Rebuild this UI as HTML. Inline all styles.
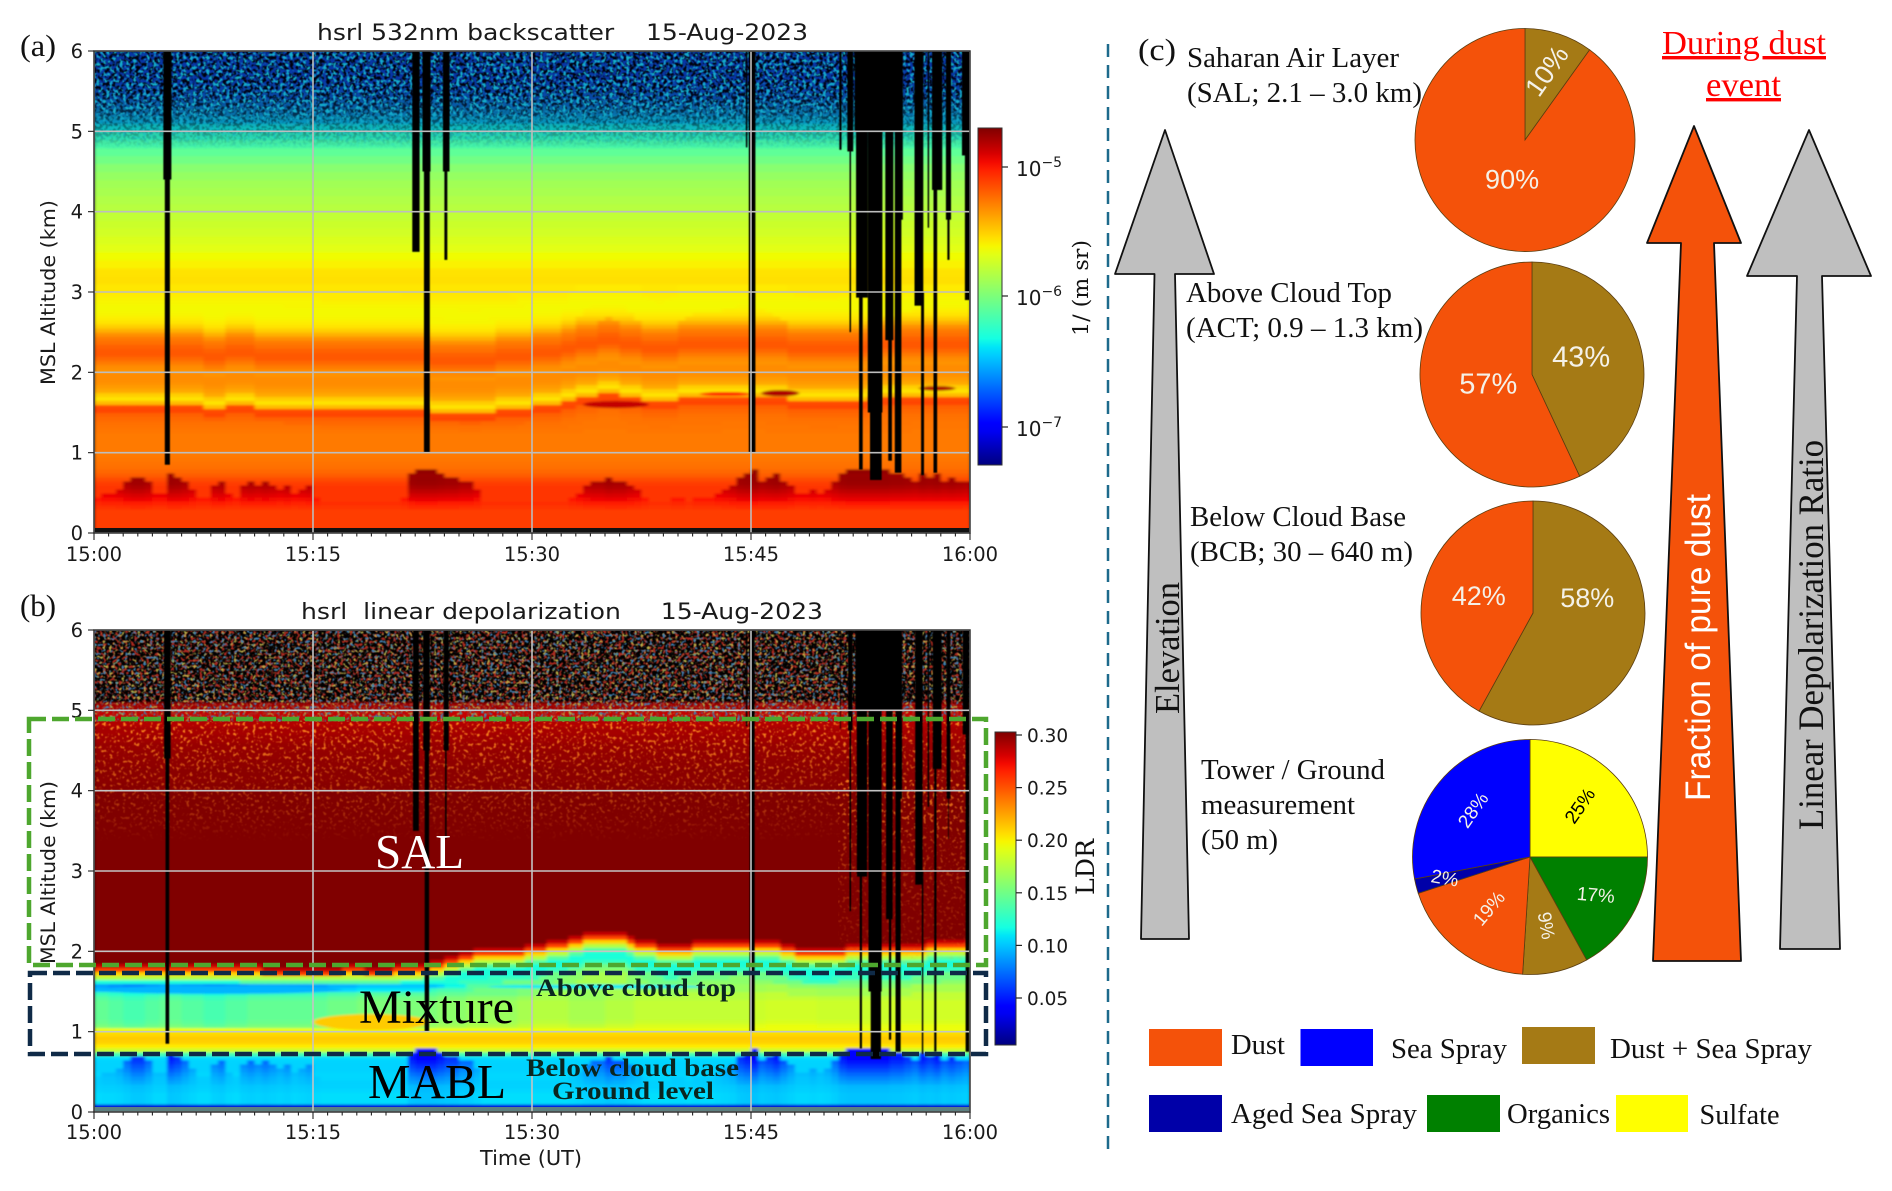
<!DOCTYPE html>
<html lang="en">
<head>
<meta charset="utf-8">
<title>HSRL backscatter, depolarization and aerosol composition during dust event</title>
<style>
html,body{margin:0;padding:0;background:#fff;}
svg{display:block;}
text{white-space:pre;}
.mpl{font-family:"DejaVu Sans","Liberation Sans",sans-serif;fill:#1a1a1a;}
.ser{font-family:"Liberation Serif",serif;fill:#111;}
.san{font-family:"Liberation Sans",sans-serif;}
</style>
</head>
<body>
<svg id="figure" xmlns="http://www.w3.org/2000/svg" width="1892" height="1191" viewBox="0 0 1892 1191">
<defs>
  <clipPath id="clip-a"><rect x="94" y="51" width="876" height="482"/></clipPath>
  <clipPath id="clip-b"><rect x="94" y="630" width="876" height="482"/></clipPath>
  <filter id="soft" x="-2%" y="-2%" width="104%" height="104%"><feGaussianBlur stdDeviation="1.6 1"/></filter>
  <filter id="soft-stripe" x="-5%" y="-5%" width="110%" height="110%"><feGaussianBlur stdDeviation="0.6"/></filter>
  <filter id="speck-cyan" x="0" y="0" width="1" height="1" color-interpolation-filters="sRGB"><feTurbulence type="fractalNoise" baseFrequency="0.3" numOctaves="2" seed="3"/><feColorMatrix values="0 0 0 0 0.08  0 0 0 0 0.68  0 0 0 0 0.8  9 0 0 0 -4.8"/><feGaussianBlur stdDeviation="0.4"/></filter>
  <filter id="speck-black" x="0" y="0" width="1" height="1" color-interpolation-filters="sRGB"><feTurbulence type="fractalNoise" baseFrequency="0.3" numOctaves="2" seed="11"/><feColorMatrix values="0 0 0 0 0  0 0 0 0 0  0 0 0 0 0.05  0 9 0 0 -4.2"/><feGaussianBlur stdDeviation="0.4"/></filter>
  <filter id="speck-red" x="0" y="0" width="1" height="1" color-interpolation-filters="sRGB"><feTurbulence type="fractalNoise" baseFrequency="0.32" numOctaves="2" seed="5"/><feColorMatrix values="0 0 0 0 0.68  0 0 0 0 0.16  0 0 0 0 0.12  9 0 0 0 -4.7"/><feGaussianBlur stdDeviation="0.4"/></filter>
  <filter id="speck-yellow" x="0" y="0" width="1" height="1" color-interpolation-filters="sRGB"><feTurbulence type="fractalNoise" baseFrequency="0.32" numOctaves="2" seed="21"/><feColorMatrix values="0 0 0 0 0.72  0 0 0 0 0.68  0 0 0 0 0.28  0 9 0 0 -5.3"/><feGaussianBlur stdDeviation="0.4"/></filter>
  <filter id="speck-aqua" x="0" y="0" width="1" height="1" color-interpolation-filters="sRGB"><feTurbulence type="fractalNoise" baseFrequency="0.32" numOctaves="2" seed="33"/><feColorMatrix values="0 0 0 0 0.25  0 0 0 0 0.5  0 0 0 0 0.7  0 0 9 0 -5.3"/><feGaussianBlur stdDeviation="0.4"/></filter>
  <filter id="speck-orange" x="0" y="0" width="1" height="1" color-interpolation-filters="sRGB"><feTurbulence type="fractalNoise" baseFrequency="0.3" numOctaves="2" seed="8"/><feColorMatrix values="0 0 0 0 1  0 0 0 0 0.55  0 0 0 0 0.12  9 0 0 0 -5.3"/><feGaussianBlur stdDeviation="0.4"/></filter>
  <linearGradient id="fade-a-grad" gradientUnits="userSpaceOnUse" x1="0" y1="112" x2="0" y2="150"><stop offset="0" stop-color="#fff"/><stop offset="1" stop-color="#000"/></linearGradient>
  <mask id="fade-a" maskUnits="userSpaceOnUse" x="94" y="51" width="876" height="482"><rect x="94" y="51" width="876" height="482" fill="url(#fade-a-grad)"/></mask>
  <linearGradient id="fade-a-black-grad" gradientUnits="userSpaceOnUse" x1="0" y1="90" x2="0" y2="148"><stop offset="0" stop-color="#fff"/><stop offset="1" stop-color="#000"/></linearGradient>
  <mask id="fade-a-black" maskUnits="userSpaceOnUse" x="94" y="51" width="876" height="482"><rect x="94" y="51" width="876" height="482" fill="url(#fade-a-black-grad)"/></mask>
  <linearGradient id="fade-b-grad" gradientUnits="userSpaceOnUse" x1="0" y1="722" x2="0" y2="842"><stop offset="0" stop-color="#fff"/><stop offset="0.4" stop-color="#999"/><stop offset="0.75" stop-color="#555"/><stop offset="1" stop-color="#000"/></linearGradient>
  <mask id="fade-b" maskUnits="userSpaceOnUse" x="94" y="630" width="876" height="482"><rect x="94" y="630" width="876" height="482" fill="url(#fade-b-grad)"/></mask>
  <linearGradient id="fade-b-right-grad" gradientUnits="userSpaceOnUse" x1="0" y1="760" x2="0" y2="965"><stop offset="0" stop-color="#fff"/><stop offset="1" stop-color="#222"/></linearGradient>
  <mask id="fade-b-right" maskUnits="userSpaceOnUse" x="94" y="630" width="876" height="482"><rect x="94" y="630" width="876" height="482" fill="url(#fade-b-right-grad)"/></mask>
  <linearGradient id="colorbar-jet" gradientUnits="objectBoundingBox" x1="0" y1="1" x2="0" y2="0"></linearGradient>
</defs>

<rect x="0" y="0" width="1892" height="1191" fill="#fff"/>

<!-- PANEL A -->
<g>
  <text class="ser" x="20" y="56" font-size="31" textLength="36" lengthAdjust="spacingAndGlyphs">(a)</text>
  <text class="mpl" x="317" y="40" font-size="22" textLength="491" lengthAdjust="spacingAndGlyphs">hsrl 532nm backscatter    15-Aug-2023</text>
  <rect x="94" y="51" width="876" height="482" fill="#000"/>
  <g clip-path="url(#clip-a)">
    <g id="heat-a" filter="url(#soft)"></g>
    <g>
      <rect x="94" y="51" width="876" height="125" fill="#0f3a5c" fill-opacity="0.55" mask="url(#fade-a)"/>
      <rect x="94" y="51" width="876" height="125" fill="#000" filter="url(#speck-black)" mask="url(#fade-a-black)"/>
      <rect x="94" y="51" width="876" height="125" fill="#000" filter="url(#speck-cyan)" mask="url(#fade-a)"/>
    </g>
    <g id="stripes-a" filter="url(#soft-stripe)"></g>
    <rect x="94" y="528" width="876" height="5" fill="#111"/>
    <g id="grid-a"></g>
  </g>
  <rect x="94" y="51" width="876" height="482" fill="none" stroke="#333" stroke-width="1.5"/>
  <g id="axes-a"></g>
  <text class="mpl" transform="translate(55 385) rotate(-90)" font-size="19.5" textLength="185" lengthAdjust="spacingAndGlyphs">MSL Altitude (km)</text>
  <rect x="978" y="128" width="24" height="337" fill="url(#colorbar-jet)" stroke="#333" stroke-width="1"/>
  <g stroke="#222" stroke-width="1.2">
    <line x1="1002" x2="1008" y1="167" y2="167"/>
    <line x1="1002" x2="1008" y1="296" y2="296"/>
    <line x1="1002" x2="1008" y1="427" y2="427"/>
  </g>
  <text class="mpl" x="1016" y="176" font-size="20">10<tspan font-size="14" dy="-9">−5</tspan></text>
  <text class="mpl" x="1016" y="305" font-size="20">10<tspan font-size="14" dy="-9">−6</tspan></text>
  <text class="mpl" x="1016" y="436" font-size="20">10<tspan font-size="14" dy="-9">−7</tspan></text>
  <text transform="translate(1088 336) rotate(-90)" font-family="'DejaVu Serif','Liberation Serif',serif" font-size="21" fill="#111" textLength="96" lengthAdjust="spacingAndGlyphs">1/ (m sr)</text>
</g>

<!-- PANEL B -->
<g>
  <text class="ser" x="20" y="616" font-size="31" textLength="36" lengthAdjust="spacingAndGlyphs">(b)</text>
  <text class="mpl" x="301" y="619" font-size="22" textLength="522" lengthAdjust="spacingAndGlyphs">hsrl  linear depolarization     15-Aug-2023</text>
  <rect x="94" y="630" width="876" height="482" fill="#000"/>
  <g clip-path="url(#clip-b)">
    <g id="heat-b" filter="url(#soft)"></g>
    <g>
      <rect x="94" y="630" width="876" height="92" fill="#000" filter="url(#speck-red)"/>
      <rect x="94" y="630" width="876" height="92" fill="#000" filter="url(#speck-yellow)"/>
      <rect x="94" y="630" width="876" height="92" fill="#000" filter="url(#speck-aqua)"/>
      <rect x="94" y="722" width="876" height="122" fill="#000" filter="url(#speck-orange)" mask="url(#fade-b)"/>
      <rect x="838" y="780" width="132" height="185" fill="#000" opacity="0.7" filter="url(#speck-orange)" mask="url(#fade-b-right)"/>
    </g>
    <g id="stripes-b" filter="url(#soft-stripe)"></g>
    <rect x="94" y="1107" width="876" height="5" fill="#5d8080"/>
    <g id="grid-b"></g>
  </g>
  <rect x="94" y="630" width="876" height="482" fill="none" stroke="#333" stroke-width="1.5"/>
  <g id="axes-b"></g>
  <text class="mpl" transform="translate(55 964) rotate(-90)" font-size="19.5" textLength="183" lengthAdjust="spacingAndGlyphs">MSL Altitude (km)</text>
  <text class="mpl" x="480" y="1165" font-size="20" textLength="102" lengthAdjust="spacingAndGlyphs">Time (UT)</text>
  <rect x="995" y="732" width="21" height="313" fill="url(#colorbar-jet)" stroke="#333" stroke-width="1"/>
  <g id="ldr-cbar-ticks"></g>
  <text transform="translate(1094 895) rotate(-90)" font-family="'DejaVu Serif','Liberation Serif',serif" font-size="25" fill="#111" textLength="56" lengthAdjust="spacingAndGlyphs">LDR</text>

  <rect x="29" y="719" width="957" height="246" fill="none" stroke="#4ea72e" stroke-width="4.5" stroke-dasharray="17 6"/>
  <rect x="30" y="973" width="956" height="81" fill="none" stroke="#0f2a47" stroke-width="4.5" stroke-dasharray="17 6"/>
  <text class="ser" style="fill:#fff" x="375" y="868" font-size="49" textLength="89" lengthAdjust="spacingAndGlyphs">SAL</text>
  <text class="ser" style="fill:#000" x="359" y="1023" font-size="48" textLength="155" lengthAdjust="spacingAndGlyphs">Mixture</text>
  <text class="ser" style="fill:#000" x="368" y="1098" font-size="49" textLength="138" lengthAdjust="spacingAndGlyphs">MABL</text>
  <text class="ser" style="fill:#0a2620" font-weight="bold" x="536" y="996" font-size="25" textLength="200" lengthAdjust="spacingAndGlyphs">Above cloud top</text>
  <text class="ser" style="fill:#0a2620" font-weight="bold" x="526" y="1076" font-size="25" textLength="213" lengthAdjust="spacingAndGlyphs">Below cloud base</text>
  <text class="ser" style="fill:#0a2620" font-weight="bold" x="552" y="1099" font-size="25" textLength="162" lengthAdjust="spacingAndGlyphs">Ground level</text>
</g>

<line x1="1108" x2="1108" y1="44" y2="1152" stroke="#1d6a8c" stroke-width="2.5" stroke-dasharray="13 8"/>

<!-- PANEL C -->
<g>
  <text class="ser" x="1138" y="60" font-size="31" textLength="38" lengthAdjust="spacingAndGlyphs">(c)</text>

  <polygon points="1165,130 1214,274 1175,274 1189,939 1141,939 1154.5,274 1115,274" fill="#bfbfbf" stroke="#111" stroke-width="1.8" stroke-linejoin="round"/>
  <polygon points="1694,126 1741,243 1714,243 1741,961 1653,961 1681,243 1647,243" fill="#f4520a" stroke="#111" stroke-width="1.8" stroke-linejoin="round"/>
  <polygon points="1809,130 1871,276 1822,276 1840,949 1780,949 1797,276 1747,276" fill="#bfbfbf" stroke="#111" stroke-width="1.8" stroke-linejoin="round"/>
  <text class="ser" transform="translate(1179 714) rotate(-90)" font-size="35" textLength="132" lengthAdjust="spacingAndGlyphs">Elevation</text>
  <text class="san" fill="#fff" transform="translate(1710 801) rotate(-90)" font-size="35" textLength="307" lengthAdjust="spacingAndGlyphs">Fraction of pure dust</text>
  <text class="ser" transform="translate(1823 830) rotate(-90)" font-size="36" textLength="390" lengthAdjust="spacingAndGlyphs">Linear Depolarization Ratio</text>

  <text class="ser" style="fill:#f00" text-decoration="underline" x="1662" y="54" font-size="34" textLength="164" lengthAdjust="spacingAndGlyphs">During dust</text>
  <text class="ser" style="fill:#f00" text-decoration="underline" x="1706" y="96" font-size="34" textLength="75" lengthAdjust="spacingAndGlyphs">event</text>

  <text class="ser" x="1187" y="67" font-size="28" textLength="212" lengthAdjust="spacingAndGlyphs">Saharan Air Layer</text>
  <text class="ser" x="1187" y="102" font-size="28" textLength="235" lengthAdjust="spacingAndGlyphs">(SAL; 2.1 – 3.0 km)</text>
  <text class="ser" x="1186" y="302" font-size="28" textLength="206" lengthAdjust="spacingAndGlyphs">Above Cloud Top</text>
  <text class="ser" x="1186" y="337" font-size="28" textLength="237" lengthAdjust="spacingAndGlyphs">(ACT; 0.9 – 1.3 km)</text>
  <text class="ser" x="1190" y="526" font-size="28" textLength="216" lengthAdjust="spacingAndGlyphs">Below Cloud Base</text>
  <text class="ser" x="1190" y="561" font-size="28" textLength="223" lengthAdjust="spacingAndGlyphs">(BCB; 30 – 640 m)</text>
  <text class="ser" x="1201" y="779" font-size="28" textLength="184" lengthAdjust="spacingAndGlyphs">Tower / Ground</text>
  <text class="ser" x="1201" y="814" font-size="28" textLength="154" lengthAdjust="spacingAndGlyphs">measurement</text>
  <text class="ser" x="1201" y="849" font-size="28" textLength="77" lengthAdjust="spacingAndGlyphs">(50 m)</text>

  <g id="pies"></g>

  <g>
    <rect x="1149" y="1029" width="73" height="37" fill="#f4520a"/>
    <text class="ser" x="1231" y="1054" font-size="28" textLength="54" lengthAdjust="spacingAndGlyphs">Dust</text>
    <rect x="1300.5" y="1029" width="72.5" height="37" fill="#0000ff"/>
    <text class="ser" x="1391" y="1058" font-size="28" textLength="116" lengthAdjust="spacingAndGlyphs">Sea Spray</text>
    <rect x="1522" y="1027" width="73" height="37" fill="#a57a15"/>
    <text class="ser" x="1610" y="1058" font-size="28" textLength="202" lengthAdjust="spacingAndGlyphs">Dust + Sea Spray</text>
    <rect x="1149" y="1095" width="73" height="37" fill="#0000a8"/>
    <text class="ser" x="1231" y="1123" font-size="28" textLength="186" lengthAdjust="spacingAndGlyphs">Aged Sea Spray</text>
    <rect x="1427" y="1095" width="73" height="37" fill="#008000"/>
    <text class="ser" x="1507" y="1123" font-size="28" textLength="103" lengthAdjust="spacingAndGlyphs">Organics</text>
    <rect x="1616" y="1095" width="72" height="37" fill="#ffff00"/>
    <text class="ser" x="1699.5" y="1124" font-size="28" textLength="80" lengthAdjust="spacingAndGlyphs">Sulfate</text>
  </g>
</g>
</svg>

<script>
// ---------- DATA ----------
const xTickMinutes = [0, 15, 30, 45, 60];
const xTickLabels = ['15:00', '15:15', '15:30', '15:45', '16:00'];
const yTickKm = [0, 1, 2, 3, 4, 5, 6];
const ldrTicks = [0.05, 0.10, 0.15, 0.20, 0.25, 0.30];

// Row altitudes of the curtain heatmaps (km, lower edge of each row)
const altitudeKm = [
  0,.05,.10,.15,.20,.25,.30,.35,.40,.45,.50,.55,.60,.65,.70,.75,.80,.85,.90,.95,
  1.00,1.05,1.10,1.15,1.20,1.25,1.30,1.35,1.40,1.45,1.50,1.55,1.60,1.65,1.70,1.75,1.80,1.85,1.90,1.95,
  2.00,2.05,2.10,2.15,2.20,2.25,2.30,2.35,2.40,2.45,2.50,2.55,2.60,2.65,2.70,2.75,2.80,2.85,2.90,2.95,
  3.0,3.1,3.2,3.3,3.4,3.5,3.6,3.7,3.8,3.9,4.0,4.1,4.2,4.3,4.4,4.5,4.6,4.7,4.8,4.9,
  5.0,5.1,5.2,5.3,5.4,5.5,5.6,5.7,5.8,5.9
];

// log10 of the attenuated backscatter (1/(m sr)) for each altitude row
const backscatterLog10 = [
  null,-5.10,
  -5.10,-5.10,-5.10,-5.10,-5.10,
  -5.10,-5.08,-5.08,-5.08,-5.08,
  -5.10,-5.14,-5.19,-5.22,-5.24,
  -5.25,-5.26,-5.27,-5.27,-5.27,
  -5.27,-5.27,-5.27,-5.26,-5.25,
  -5.24,-5.22,-5.20,-5.12,-5.14,
  -5.45,-5.56,-5.50,-5.40,-5.36,
  -5.33,-5.32,-5.32,-5.34,-5.32,
  -5.27,-5.22,-5.18,-5.18,-5.20,
  -5.24,-5.27,-5.33,-5.42,-5.50,
  -5.56,-5.59,-5.61,-5.62,-5.62,
  -5.61,-5.60,-5.58,
  -5.57,-5.55,-5.56,-5.60,-5.63,-5.675,-5.70,-5.73,-5.75,-5.78,
  -5.81,-5.83,-5.86,-5.88,-5.92,-5.96,-6.03,-6.09,-6.16,-6.23,
  -6.34,-6.45,-6.55,-6.65,-6.75,-6.80,-6.85,-6.85,-6.85,-6.85
];

// Linear depolarization ratio for each altitude row
const ldrValues = [
  null,.03,
  .108,.108,.108,.106,.104,
  .104,.105,.105,.104,.104,
  .104,.106,.135,.184,.202,
  .210,.212,.208,.195,.184,
  .178,.175,.175,.175,.175,
  .175,.170,.160,.150,.130,
  .120,.120,.140,.175,.210,
  .255,.285,.303,.303,.303,
  .303,.303,.303,.303,.303,
  .303,.303,.303,.303,.303,
  .303,.303,.303,.303,.303,
  .303,.303,.303,
  .303,.303,.303,.303,.303,.303,.303,.303,.303,.303,
  .301,.300,.300,.299,.298,.297,.295,.293,.290,.285,
  .295,null,null,null,null,null,null,null,null,null
];

// Per 30-second column: vertical displacement of the 1.5-2.5 km layers in backscatter (km)
const backscatterLayerShift = [
  0,0,.02,.02,.02,.02,0,0,0,0,-.02,-.02,-.02,-.02,-.02,-.03,-.03,-.03,-.02,-.02,
  -.02,-.02,-.03,-.03,-.03,-.03,-.04,-.04,-.04,-.04,-.04,-.05,-.05,-.05,-.05,-.05,-.05,-.05,-.05,-.05,
  -.05,-.05,-.06,-.06,-.07,-.07,-.08,-.08,-.09,-.09,-.1,-.1,-.1,-.09,-.08,-.07,-.06,-.05,-.04,-.03,
  -.02,-.01,0,.02,.04,.07,.09,.11,.12,.13,.14,.13,.12,.1,.08,.06,.05,.04,.05,.06,
  .08,.09,.1,.1,.1,.1,.11,.11,.12,.12,.12,.11,.1,.09,.08,.07,.06,.06,.05,.05,
  .05,.05,.06,.06,.07,.07,.08,.08,.09,.09,.1,.1,.11,.11,.12,.12,.12,.12,.12,.12
];

// Per 30-second column: displacement of the top of the mixture layer in LDR (km)
const ldrTopShift = [
  -.1,-.1,-.1,-.1,-.1,-.1,-.1,-.1,-.09,-.09,-.09,-.09,-.1,-.1,-.1,-.1,-.11,-.11,-.11,-.11,
  -.12,-.12,-.12,-.13,-.13,-.13,-.14,-.14,-.14,-.14,-.14,-.14,-.13,-.13,-.12,-.12,-.12,-.13,-.13,-.13,
  -.13,-.12,-.11,-.1,-.09,-.08,-.07,-.05,-.02,.02,.05,.07,.08,.09,.1,.11,.12,.12,.12,.13,
  .15,.16,.18,.2,.22,.25,.27,.28,.3,.31,.32,.31,.28,.26,.22,.2,.18,.16,.15,.15,
  .16,.17,.18,.2,.2,.2,.2,.22,.22,.22,.2,.2,.2,.18,.16,.14,.12,.1,.08,.08,
  .08,.1,.12,.14,.14,.14,.14,.14,.14,.14,.15,.15,.16,.16,.18,.18,.2,.2,.2,.2
];

// Per 30-second column: LDR offset of the 1.05-1.6 km mixture layer relative to the mean profile
const ldrMidOffset = [
  -.03,-.03,-.035,-.035,-.04,-.04,-.04,-.035,-.035,-.03,-.03,-.03,-.035,-.035,-.035,-.04,-.04,-.04,-.035,-.035,-.035,-.03,-.03,-.03,-.03,-.03,-.03,-.03,-.03,-.03,
  -.03,-.03,-.025,-.025,-.025,-.025,-.02,-.02,-.02,-.02,-.02,-.02,-.02,-.02,-.02,-.02,-.02,-.015,-.015,-.015,-.015,-.01,-.01,-.01,-.01,-.01,-.01,-.01,-.005,-.005,
  0,0,0,0,0,-.005,-.005,-.005,-.005,-.005,0,0,0,0,.005,.005,.005,.005,.005,.005,.005,.005,.005,.005,.005,.005,.005,.005,.005,.005,
  .008,.008,.01,.01,.01,.01,.01,.01,.01,.008,.008,.008,.008,.008,.008,.008,.008,.008,.008,.01,.01,.01,.01,.01,.01,.01,.01,.01,.01,.01
];

// Per 30-second column: strength of the sub-cloud plumes (0-1)
const plumeStrength = [
  .2,.3,.3,.4,.6,.8,.8,.6,.3,.3,
  .9,.8,.6,.4,.2,.2,.5,.6,.3,.2,
  .5,.6,.5,.6,.5,.4,.5,.3,.4,.5,
  .2,.1,.1,.1,.1,.1,.1,.1,.1,.1,
  .1,.1,.2,.9,1,1,1,.9,.8,.8,
  .6,.6,.4,.1,.1,.1,.1,.1,.1,.1,
  .1,.1,.1,.1,.1,.2,.3,.5,.6,.6,
  .8,.7,.7,.5,.4,.2,.1,.1,.1,.2,
  .2,.1,.2,.2,.2,.3,.4,.5,.8,.9,
  1,.7,.8,.9,.7,.5,.3,.3,.4,.3,
  .4,.6,.9,1,1,1,1,1,1,.9,
  .9,.8,.7,.9,.8,.9,.7,.8,.7,.6
];

// Lens-shaped cloud features in backscatter: [start minute, end minute, altitude km, thickness km, log10 value]
const backscatterLenses = [
  [33.5, 38, 1.60, .09, -4.85],
  [41.5, 45, 1.73, .05, -5.00],
  [45.7, 48.3, 1.74, .08, -4.80],
  [56.5, 59, 1.80, .06, -4.80]
];

// Patches in LDR: [start minute, end minute, altitude km, thickness km, LDR]
const ldrPatches = [
  [15, 23, 1.12, .20, .212],
  [0, 17, 1.52, .10, .095],
  [27, 42, 1.56, .05, .110]
];

// Instrument blockage by clouds: [start minute, end minute, top km, bottom km]
const cloudShadows = [
  [4.75, 5.3, 6, 4.4], [4.85, 5.2, 6, .85],
  [21.8, 22.3, 6, 3.5], [22.5, 23.05, 6, 4.5], [22.6, 23.0, 6, 1.0], [23.9, 24.35, 6, 4.5], [24.0, 24.2, 6, 3.4],
  [44.65, 44.75, 6, 4.8], [44.85, 45.3, 6, 1.0],
  [51.05, 51.2, 6, 4.77], [51.6, 52.0, 6, 4.75], [51.75, 51.85, 6, 2.5],
  [52.1, 55.4, 6, 5.0], [52.2, 52.9, 6, 4.0], [52.2, 53.0, 5, 2.93], [52.4, 52.65, 3, .79],
  [53.0, 54.0, 5, 1.5], [53.15, 53.95, 2, .66], [54.2, 54.75, 5, 2.4], [54.4, 54.65, 3, .9],
  [54.85, 55.3, 5, .75], [55.1, 55.4, 5.2, 3.9],
  [56.2, 56.8, 6, 2.83], [56.65, 56.85, 3, .72], [57.1, 57.2, 6, 3.8],
  [57.4, 58.1, 6, 4.27], [57.5, 57.75, 5, .75], [58.35, 58.7, 6, 3.9], [58.45, 58.6, 4, 3.4],
  [59.45, 60, 6, 4.7], [59.65, 60, 5, 2.9]
];

// Shadows only visible in the depolarization curtain: [start minute, end minute, top km, bottom km]
const ldrExtraShadows = [
  [59.7, 59.95, 3, .75]
];

// Pie shares, clockwise from 12 o'clock
const pieSalShares = [10, 90];
const pieSalKinds = ['mix', 'dust'];
const pieActShares = [43, 57];
const pieActKinds = ['mix', 'dust'];
const pieBcbShares = [58, 42];
const pieBcbKinds = ['mix', 'dust'];
const pieTowerShares = [25, 17, 9, 19, 2, 28];
const pieTowerKinds = ['sulfate', 'organics', 'mix', 'dust', 'aged', 'sea'];

// ---------- STYLE / LAYOUT ----------
const kindColors = {dust:'#f4520a', mix:'#a57a15', sea:'#0000ff', aged:'#0000a8', organics:'#008000', sulfate:'#ffff00'};
const SVGNS = 'http://www.w3.org/2000/svg';
const X0 = 94, X1 = 970;
const PANEL_A = {y0:533, y6:51}, PANEL_B = {y0:1112, y6:630};
const LOG_MIN = -7.3, LOG_MAX = -4.7, LDR_MIN = .005, LDR_MAX = .303;

function xScale(minute){ return X0 + minute / 60 * (X1 - X0); }
function yScaleFor(p){ return function(z){ return p.y0 + z / 6 * (p.y6 - p.y0); }; }
const yA = yScaleFor(PANEL_A), yB = yScaleFor(PANEL_B);
function svgEl(tag, attrs, parent){
  const e = document.createElementNS(SVGNS, tag);
  for (const k in attrs) e.setAttribute(k, attrs[k]);
  parent.appendChild(e);
  return e;
}
function clamp01(v){ return Math.max(0, Math.min(1, v)); }
function jet(t){
  t = clamp01(t);
  const r = t < .35 ? 0 : t < .66 ? (t - .35) / .31 : t < .89 ? 1 : 1 - (t - .89) / .11 * .5;
  const g = t < .125 ? 0 : t < .375 ? (t - .125) / .25 : t < .64 ? 1 : t < .91 ? 1 - (t - .64) / .27 : 0;
  const b = t < .11 ? .5 + t / .11 * .5 : t < .34 ? 1 : t < .65 ? 1 - (t - .34) / .31 : 0;
  return 'rgb(' + Math.round(r * 255) + ',' + Math.round(g * 255) + ',' + Math.round(b * 255) + ')';
}
function logColor(L){ return L === null ? '#000' : jet((L - LOG_MIN) / (LOG_MAX - LOG_MIN)); }
function ldrColor(v){ return v === null ? '#000' : jet((v - LDR_MIN) / (LDR_MAX - LDR_MIN)); }
function profileAt(profile, z){
  let best = 0, bestD = 1e9;
  for (let j = 0; j < altitudeKm.length; j++){
    const d = Math.abs(altitudeKm[j] - z);
    if (d < bestD){ bestD = d; best = j; }
  }
  return profile[best];
}
function plumeWeight(s, z){
  const top = .35 + .42 * s;
  if (z < .3 || z > top) return 0;
  return (z - .25) / (top - .25);
}
function backscatterCell(col, z){
  let taper = 0;
  if (z > 1.2 && z < 3.2) taper = z < 1.4 ? (z - 1.2) / .2 : z < 2.6 ? 1 : (3.2 - z) / .6;
  let L = profileAt(backscatterLog10, z - backscatterLayerShift[col] * taper);
  const s = plumeStrength[col];
  if (L !== null) L += .5 * s * plumeWeight(s, z);
  return L;
}
function ldrCell(col, z){
  let taper = 0;
  if (z > 1.4 && z < 3) taper = z < 1.7 ? (z - 1.4) / .3 : z < 2.6 ? 1 : (3 - z) / .4;
  let v = profileAt(ldrValues, z - ldrTopShift[col] * taper);
  const s = plumeStrength[col];
  if (v !== null && z < .85){
    v *= 1 - .8 * s * s * plumeWeight(s, z);
    if (z < .3) v *= 1 - .08 * s;
  }
  if (v !== null && z > 1.02 && z < 1.6) v += ldrMidOffset[col];
  return v;
}
function drawHeat(parentId, yScale, cell, color){
  const parent = document.getElementById(parentId);
  const frag = document.createDocumentFragment();
  const cols = plumeStrength.length;
  for (let i = 0; i < cols; i++){
    const xL = xScale(i * 60 / cols), xR = xScale((i + 1) * 60 / cols);
    for (let j = 0; j < altitudeKm.length; j++){
      const zLow = altitudeKm[j];
      const zHigh = j + 1 < altitudeKm.length ? altitudeKm[j + 1] : 6;
      const r = document.createElementNS(SVGNS, 'rect');
      r.setAttribute('x', xL.toFixed(2));
      r.setAttribute('y', yScale(zHigh).toFixed(2));
      r.setAttribute('width', (xR - xL + .6).toFixed(2));
      r.setAttribute('height', (yScale(zLow) - yScale(zHigh) + .6).toFixed(2));
      r.setAttribute('fill', color(cell(i, zLow + .001)));
      
      
      frag.appendChild(r);
    }
  }
  parent.appendChild(frag);
}
function drawBlobs(parentId, yScale, list, color){
  const parent = document.getElementById(parentId);
  list.forEach(function(b){
    const el = svgEl('ellipse', {
      cx: (xScale(b[0]) + xScale(b[1])) / 2,
      cy: yScale(b[2]),
      rx: (xScale(b[1]) - xScale(b[0])) / 2,
      ry: Math.abs(yScale(b[3]) - yScale(0)) / 2,
      fill: color(b[4])
    }, parent);
    
    
  });
}
function drawStripes(parentId, yScale, list, shrinkMin){
  const parent = document.getElementById(parentId);
  list.forEach(function(s){
    const w = s[1] - s[0];
    const inset = w > 2.5 * shrinkMin ? shrinkMin : 0;
    const el = svgEl('rect', {
      x: xScale(s[0] + inset),
      y: yScale(s[2]),
      width: xScale(s[1] - inset) - xScale(s[0] + inset),
      height: yScale(s[3]) - yScale(s[2]),
      fill: '#000'
    }, parent);
    
    
  });
}
function drawGrid(parentId, yScale, stroke){
  const parent = document.getElementById(parentId);
  xTickMinutes.forEach(function(m){
    const el = svgEl('line', {x1:xScale(m), x2:xScale(m), y1:yScale(6), y2:yScale(0), stroke:stroke, 'stroke-width':1.6}, parent);
    
    
  });
  yTickKm.forEach(function(z){
    const el = svgEl('line', {x1:X0, x2:X1, y1:yScale(z), y2:yScale(z), stroke:stroke, 'stroke-width':1.6}, parent);
    
    
  });
}
function drawAxes(parentId, yScale, labelY){
  const parent = document.getElementById(parentId);
  const base = yScale(0);
  for (let m = 0; m <= 60; m++){
    const major = m % 15 === 0;
    const el = svgEl('line', {x1:xScale(m), x2:xScale(m), y1:base, y2:base + (major ? 7 : 3.5), stroke:'#222', 'stroke-width':1.1}, parent);
    
    
  }
  xTickMinutes.forEach(function(m, i){
    const t = svgEl('text', {x:xScale(m), y:labelY, 'text-anchor':'middle', 'font-size':19.5, class:'mpl'}, parent);
    t.textContent = xTickLabels[i];
    
    
  });
  yTickKm.forEach(function(z){
    const l = svgEl('line', {x1:X0 - 6, x2:X0, y1:yScale(z), y2:yScale(z), stroke:'#222', 'stroke-width':1.1}, parent);
    
    
    const t = svgEl('text', {x:X0 - 11, y:yScale(z) + 7, 'text-anchor':'end', 'font-size':19.5, class:'mpl'}, parent);
    t.textContent = String(z);
    
    
  });
}

// ---------- PANELS ----------
drawHeat('heat-a', yA, backscatterCell, logColor);
drawBlobs('heat-a', yA, backscatterLenses, logColor);
drawStripes('stripes-a', yA, cloudShadows, 0);
drawGrid('grid-a', yA, '#bdbdbd');
drawAxes('axes-a', yA, 561);

drawHeat('heat-b', yB, ldrCell, ldrColor);
drawBlobs('heat-b', yB, ldrPatches, ldrColor);
drawStripes('stripes-b', yB, cloudShadows, .05);
drawStripes('stripes-b', yB, ldrExtraShadows, 0);
drawGrid('grid-b', yB, '#c4c4c4');
drawAxes('axes-b', yB, 1139);

// ---------- COLORBARS ----------
(function(){
  const grad = document.getElementById('colorbar-jet');
  for (let i = 0; i <= 40; i++){
    svgEl('stop', {offset: i / 40, 'stop-color': jet(i / 40)}, grad);
  }
  const g = document.getElementById('ldr-cbar-ticks');
  ldrTicks.forEach(function(v){
    const y = 998 - (v - .05) / .05 * 52.6;
    const l = svgEl('line', {x1:1016, x2:1022, y1:y, y2:y, stroke:'#222', 'stroke-width':1.2}, g);
    
    
    const t = svgEl('text', {x:1027, y:y + 7, 'font-size':18.5, class:'mpl'}, g);
    t.textContent = v.toFixed(2);
    
    
  });
})();

// ---------- PIES ----------
function drawPie(name, shares, kinds, layout){
  const root = document.getElementById('pies');
  const g = svgEl('g', {}, root);
  
  
  const total = shares.reduce(function(a, b){ return a + b; }, 0);
  let acc = 0;
  shares.forEach(function(share, i){
    const a0 = acc / total * 2 * Math.PI;
    acc += share;
    const a1 = acc / total * 2 * Math.PI;
    const p0x = layout.cx + layout.rx * Math.sin(a0), p0y = layout.cy - layout.ry * Math.cos(a0);
    const p1x = layout.cx + layout.rx * Math.sin(a1), p1y = layout.cy - layout.ry * Math.cos(a1);
    const large = (a1 - a0) > Math.PI ? 1 : 0;
    const d = 'M' + layout.cx + ' ' + layout.cy + 'L' + p0x.toFixed(2) + ' ' + p0y.toFixed(2) +
      'A' + layout.rx + ' ' + layout.ry + ' 0 ' + large + ' 1 ' + p1x.toFixed(2) + ' ' + p1y.toFixed(2) + 'Z';
    const slice = svgEl('path', {d:d, fill:kindColors[kinds[i]], stroke:'#5a3d10', 'stroke-width':.8}, g);
    
    
  });
  acc = 0;
  shares.forEach(function(share, i){
    const mid = (acc + share / 2) / total * 2 * Math.PI;
    acc += share;
    const nudge = layout.nudge ? layout.nudge[i] : [0, 0];
    const lx = layout.cx + layout.rx * layout.labelR[i] * Math.sin(mid) + nudge[0];
    const ly = layout.cy - layout.ry * layout.labelR[i] * Math.cos(mid) + nudge[1];
    const rot = layout.labelRot ? layout.labelRot[i] : 0;
    const t = svgEl('text', {
      x:lx, y:ly, 'text-anchor':'middle', 'dominant-baseline':'central',
      'font-size':layout.font, class:'san',
      fill: kinds[i] === 'sulfate' ? '#000' : '#f4f1e8',
      transform:'rotate(' + rot + ' ' + lx.toFixed(1) + ' ' + ly.toFixed(1) + ')'
    }, g);
    t.textContent = share + '%';
    
    
  });
}
drawPie('pie-sal', pieSalShares, pieSalKinds, {cx:1525, cy:140, rx:110, ry:111.5, font:27, labelR:[.65,.38], labelRot:[-55,0], nudge:[[0,0],[0,-1]]});
drawPie('pie-act', pieActShares, pieActKinds, {cx:1532, cy:374.5, rx:112, ry:112.5, font:29, labelR:[.45,.4], nudge:[[0,-6],[0,0]]});
drawPie('pie-bcb', pieBcbShares, pieBcbKinds, {cx:1533, cy:613, rx:112, ry:112, font:27, labelR:[.5,.5], nudge:[[0,-29],[0,-3]]});
drawPie('pie-tower', pieTowerShares, pieTowerKinds, {cx:1530, cy:857, rx:117.5, ry:117.5, font:19, labelR:[.61,.65,.6,.56,.75,.62], labelRot:[-55,5,80,-50,10,-55]});
</script>
</body>
</html>
